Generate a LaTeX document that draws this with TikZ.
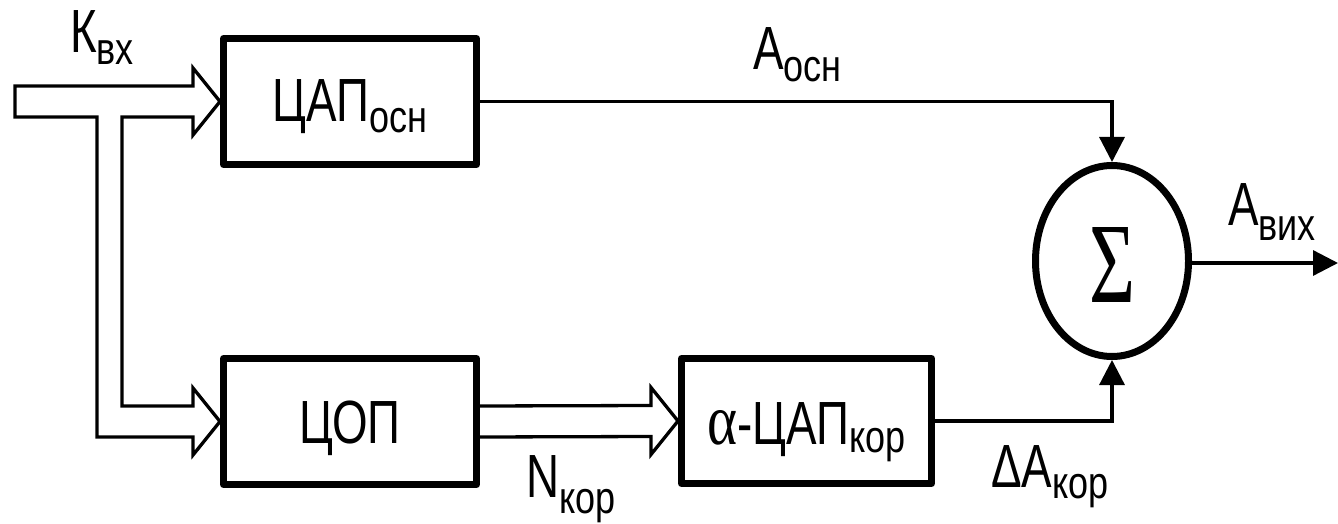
\documentclass[tikz,border=0pt]{standalone}
\usepackage[no-math]{fontspec}
\setmainfont{Liberation Sans}[FakeStretch=0.75]
\newfontfamily\grserif{Liberation Serif}
\newfontfamily\subfont{Liberation Sans}[FakeStretch=0.8]
\usetikzlibrary{arrows.meta,shapes.geometric,calc}
\newcommand\sbx[2][11pt]{\raisebox{-#1}{\subfont\fontsize{45}{45}\selectfont #2}}
\begin{document}
\begin{tikzpicture}[x=1pt,y=-1pt,
  blk/.style={draw, line width=7pt, minimum width=253pt, minimum height=126pt, inner sep=0pt, line join=round},
  lbl/.style={font=\fontsize{61}{61}\selectfont, inner sep=0pt},
  wire/.style={line width=3.3pt},
  bus/.style={line width=3.3pt, line join=miter},
  arr/.style={-{Triangle[length=25pt,width=25pt]}}]
\useasboundingbox (0,0) rectangle (1338,524);
% blocks
\node[blk] (dac) at (350,101.5) {};
\node[blk] (cop) at (350,421.5) {};
\node[blk, minimum width=250pt, minimum height=125pt] (adac) at (806.5,421) {};
\node[draw, ellipse, line width=7pt, minimum width=153pt, minimum height=191pt, inner sep=0pt] (sum) at (1112,261) {};
% block texts
\node[lbl, anchor=base] (tdac) at ([yshift=-20.5pt]dac.center) {ЦАП\sbx[10pt]{осн}};
\node[lbl, anchor=base] (tcop) at ([yshift=-21.5pt]cop.center) {ЦОП};
\node[lbl, anchor=base] (tadac) at ([yshift=-23pt]adac.center) {\resizebox{30pt}{34pt}{\grserif α}-ЦАП\sbx[8pt]{кор}};
\node[inner sep=0pt] (sig) at ([yshift=-4pt]sum.center) {\resizebox{46pt}{75pt}{\grserif Σ}};
% input bus
\coordinate (inL) at (15,101.5);
\draw[bus] ($(inL)+(0,-15.5)$) -- ($(dac.west)+(-27,-15.5)$) -- ($(dac.west)+(-27,-33.5)$) -- (dac.west)
  -- ($(dac.west)+(-27,33.5)$) -- ($(dac.west)+(-27,15.5)$) -- (122,117) -- (122,406)
  -- ($(cop.west)+(-27,-15.5)$) -- ($(cop.west)+(-27,-33.5)$) -- (cop.west)
  -- ($(cop.west)+(-27,33.5)$) -- ($(cop.west)+(-27,15.5)$) -- (97,437) -- (97,117)
  -- ($(inL)+(0,15.5)$) -- cycle;
% middle bus
\draw[bus] ($(cop.east)+(0,-15.5)$) -- ($(adac.west)+(-27,-15.5)$) -- ($(adac.west)+(-27,-33.5)$) -- (adac.west)
  -- ($(adac.west)+(-27,33.5)$) -- ($(adac.west)+(-27,15.5)$) -- ($(cop.east)+(0,15.5)$);
% wires
\draw[wire,arr] (dac.east) -| (sum.north);
\draw[wire,arr] (adac.east) -| (sum.south);
\coordinate (out) at (1338,263);
\draw[wire,arr] (sum.east |- out) -- (out);
% labels
\node[lbl, anchor=base west] (kin) at (70,53) {К\sbx[12pt]{вх}};
\node[lbl, anchor=base west] (aosn) at (753,70) {А\sbx[12pt]{осн}};
\node[lbl, anchor=base west] (avih) at (1228,225) {А\sbx[15pt]{вих}};
\node[lbl, anchor=base west] (nkor) at (526,497) {N\sbx[16pt]{кор}};
\node[lbl, anchor=base west] (dakor) at (991,487) {ΔА\sbx[11pt]{кор}};
\end{tikzpicture}
\end{document}
